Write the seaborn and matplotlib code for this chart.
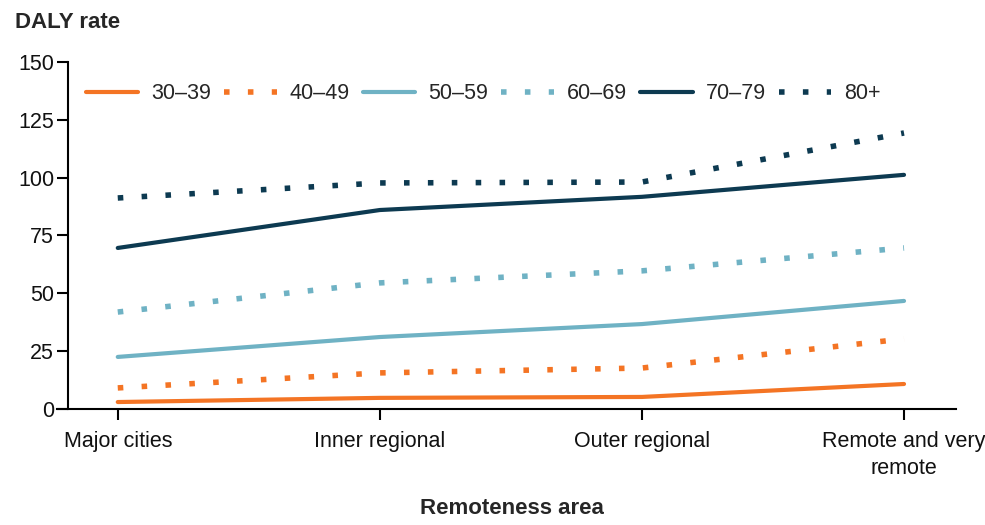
import pandas as pd
import seaborn as sns
import matplotlib.pyplot as plt

# remoteness categories and DALY rates per age group
areas = ["Major cities", "Inner regional", "Outer regional", "Remote and very\nremote"]
age_groups = ["30–39", "40–49", "50–59", "60–69", "70–79", "80+"]
rate_30_39 = [3.0, 4.8, 5.2, 10.8]
rate_40_49 = [9.1, 15.6, 17.7, 30.3]
rate_50_59 = [22.5, 31.1, 36.7, 46.7]
rate_60_69 = [41.9, 54.5, 59.7, 69.6]
rate_70_79 = [69.6, 86.0, 91.7, 101.2]
rate_80_plus = [91.2, 97.7, 98.1, 119.3]

series = [rate_30_39, rate_40_49, rate_50_59, rate_60_69, rate_70_79, rate_80_plus]
orange = "#F47424"
light_blue = "#6FB2C4"
navy = "#0D3A51"
colours = [orange, orange, light_blue, light_blue, navy, navy]
dotted = [False, True, False, True, False, True]

rows = []
for grp, vals in zip(age_groups, series):
    for area, v in zip(areas, vals):
        rows.append({"area": area, "group": grp, "rate": v})
df = pd.DataFrame(rows)

sns.set_style("white")
plt.rcParams["font.family"] = ["Liberation Sans", "DejaVu Sans"]

fig, ax = plt.subplots(figsize=(9.85, 5.25), dpi=100)
fig.subplots_adjust(left=0.069, right=0.971, bottom=0.221, top=0.882)

for grp, col, dot in zip(age_groups, colours, dotted):
    sub = df[df["group"] == grp]
    if dot:
        sns.lineplot(data=sub, x="area", y="rate", color=col, linewidth=4,
                     linestyle=(0, (1, 3.3)), label=grp, ax=ax, sort=False)
    else:
        sns.lineplot(data=sub, x="area", y="rate", color=col, linewidth=3,
                     label=grp, ax=ax, sort=False)

ax.set_ylim(0, 150)
ax.set_yticks([0, 25, 50, 75, 100, 125, 150])
ax.set_xlim(-0.19, 3.2)

for s in ["top", "right"]:
    ax.spines[s].set_visible(False)
for s in ["left", "bottom"]:
    ax.spines[s].set_color("black")
    ax.spines[s].set_linewidth(1.5)
ax.spines["bottom"].set_bounds(-0.23, 3.2)

ax.tick_params(axis="both", direction="out", length=8, width=1.5, color="black",
               labelsize=15.5, labelcolor="#111111")
ax.tick_params(axis="x", pad=8)
ax.tick_params(axis="y", pad=2)
ax.tick_params(left=True, bottom=True)
for lbl in ax.get_xticklabels():
    lbl.set_linespacing(1.35)

ax.set_xlabel("Remoteness area", fontsize=16, fontweight="bold", labelpad=14)
ax.set_ylabel("")
fig.text(0.015, 0.958, "DALY rate", fontsize=16, fontweight="bold", va="center")

ax.legend(ncol=6, loc="upper left", bbox_to_anchor=(-0.002, 0.995), frameon=False,
          fontsize=15.5, handlelength=2.45, handletextpad=0.6, columnspacing=0.6)

fig.savefig("out.png", dpi=100)
